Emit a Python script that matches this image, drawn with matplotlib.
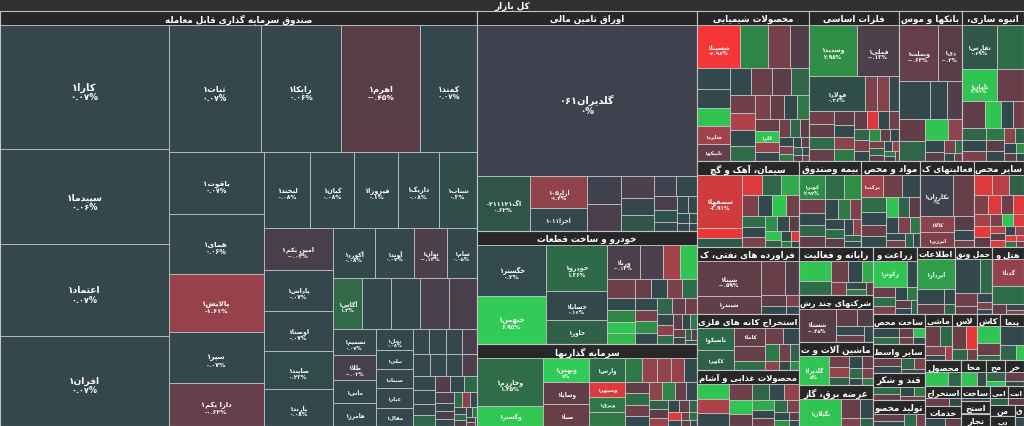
import re
import numpy as np
import matplotlib
matplotlib.use("Agg")
import matplotlib.pyplot as plt
from matplotlib.patches import Rectangle
from matplotlib.colors import to_rgb

# canvas in pixels
W, H = 1024, 427
TITLE_H = 12
HEAD_H = 14
PHI = (1 + 5 ** 0.5) / 2

title = "کل بازار"

# top level sectors (market weight)
sector_names = ["صندوق سرمایه گذاری قابل معامله", "اوراق تامین مالی", "خودرو و ساخت قطعات",
                "سرمایه گذاریها", "محصولات شیمیایی", "فلزات اساسی", "بانکها و موس", "انبوه سازی،",
                "سیمان، آهک و گچ", "فراورده های نفتی، ک", "استخراج کانه های فلزی", "محصولات غذایی و آشام",
                "بیمه وصندوق", "مواد و محص", "فعالیتهای ک", "سایر محص", "رایانه و فعالیت",
                "شرکتهای چند رش", "ماشین آلات و ت", "عرضه برق، گاز", "زراعت و", "اطلاعات",
                "حمل ونق", "هتل و"]
sector_totals = [197955, 48400, 24860, 18040, 16800, 13500, 9450, 9300, 8772, 6834, 5712, 5700,
                 5332, 5074, 4644, 4300, 3552, 3478, 3256, 3010, 3000, 2520, 2500, 2176]

etf_names = ["کارا۱", "سپیدما۱", "اعتماد۱", "افران۱", "ثبات۱", "رایکا۱", "اهرم۱", "کمند۱",
             "یاقوت۱", "همای۱", "پالایش۱", "سپر۱", "دارا یکم۱", "لیخند۱", "کیان۱", "فیروزا۱",
             "داریک۱", "شتاب۱", "امین یکم۱", "پاداش۱", "اوصتا۱", "صایند۱", "پارند۱", "آکورد۱",
             "آوند۱", "توان۱", "سام۱", "آگاس۱", "", "", "", "", "تصمیم۱", "طلا۱", "مانی۱",
             "هامرز۱", "نخل۱", "نیلی۱", "سیناد۱", "عیار۱", "مقال۱"]
etf_values = [20600, 15800, 15100, 15000, 11500, 10050, 9900, 7050, 5770, 5670, 5390, 4840, 4000,
              3430, 3290, 3280, 2990, 2850, 2840, 2770, 2710, 2570, 2510, 2115, 1930, 1600, 1500,
              1490, 1470, 1460, 1440, 1420, 1100, 1080, 1000, 980, 720, 700, 690, 680, 660,
              400, 390, 380, 370, 360, 350, 340, 330, 320, 310, 250, 240, 230, 220, 210, 200,
              150, 140, 130, 120, 110, 100, 90, 80, 70, 60, 50, 40, 30, 20]
etf_change = [0.07, 0.06, 0.07, 0.07, 0.07, 0.06, -0.45, 0.07, 0.07, 0.06, -1.61, 0.07, -0.64,
              0.08, 0.08, 0.1, 0.08, 0.3, -0.04, 0.07, 0.07, 0.23, 0.08, 0.08, 0.07, -0.13, 0.05,
              1.4, 0.07, 0.07, -0.02, -0.05, 0.07, -0.02, 0.05, 0.06, 0.08, 0.07, 0.05, 0.06, 0.07,
              0.07, 0.06, 0.05, -0.06, 0.07, 0.08, 0.07, -0.1, 0.06, 0.07, 0.05, 1.2, -0.3, 0.07,
              1.3, -0.08, 0.06, -0.2, 0.07, 1.5, -1.2, 0.07, 0.05, 1.4, -0.1, 0.06, 2, 0.07, -0.6, 0.05]

bond_names = ["گلدیران۰۶۱", "اگ۰۲۱۱۱۲۱", "اراد۱۰۵", "اخزا۱۰۱۱"]
bond_values = [32700, 2915, 1790, 1290, 950, 920, 730, 560, 530, 440, 420, 300, 280, 200, 180,
               150, 120, 100, 80, 60]
bond_change = [0, 0.62, -1.4, 0.05, 0, -0.1, -0.08, 0.05, 0.6, 0, 0.02, -0.05, 0.5, 0.05, 0.02,
               0.04, 0.03, 0.02, 0.3, 0.05]

auto_names = ["خگستر۱", "خبهمن۱", "خودرو۱", "خساپا۱", "خاور۱", "ورنا۱"]
auto_values = [3500, 3360, 2760, 1740, 1440, 1120, 780, 580, 580, 520, 340, 330, 320, 300, 300,
               290, 280, 280, 270, 260, 260, 250, 240, 220, 200, 180, 160, 140, 130, 120, 100,
               90, 80, 70, 60, 50]
auto_change = [0.2, 6.95, 1.36, 0.16, 1.0, -0.14, -0.1, -2.0, 5.0, -0.8, 0.1, 2.5, 5.0, 4.5, -0.7,
               0.1, -1.0, 1.5, 0.1, -0.9, 3.0, 0.1, 1.2, -0.6, -0.8, 0.1, -1.2, 1.5, -0.5, 0.1,
               2.0, -0.7, 0.1, 1.0, -0.4, 0.2]

inv_names = ["وخارزم۱", "وگستر۱", "وبهمن۱", "وساپا۱", "صبا۱", "وارس۱", "وسپهر۱", "وبرق۱"]
inv_values = [3150, 1340, 1100, 1010, 1000, 840, 530, 525, 490, 420, 345, 340, 300, 300, 280, 280,
              260, 250, 240, 220, 200, 200, 180, 160, 150, 140, 120, 100, 90, 80, 70, 60, 50, 40]
inv_change = [1.45, 5.5, 7.0, -0.6, -0.7, 1.5, -5.0, 2.0, 2.0, 2.0, -1.5, -1.4, -1.6, 0.1, -0.6,
              1.5, -0.8, 0.1, -1.2, 2.5, -0.7, 0.1, 1.0, -0.5, -1.5, 0.1, -0.6, 1.2, -5.0, 0.1,
              -0.8, 1.5, -0.5, 0.1]

chem_names = ["شسپنا۱", "", "", "", "", "", "", "شلرد۱", "تاپیکو۱", "", "", "", "", "", "", "",
              "", "", "", "", "", "", "کلر۱"]
chem_values = [1890, 1230, 970, 840, 700, 650, 620, 600, 570, 560, 550, 520, 480, 450, 420, 400,
               380, 360, 340, 320, 300, 280, 260, 240, 220, 200, 180, 160, 140, 120, 100, 90, 80,
               70, 60, 50, 40]
chem_change = [-6.98, 2.5, -0.9, -0.3, 0.1, 0.1, 5.0, -2.0, -0.6, 0.1, -0.7, -0.5, 1.2, -0.8, -2.5,
               0.1, 1.5, -1.0, -0.6, 0.1, 2.0, -0.7, 5.0, -1.5, 0.1, -0.8, 1.2, -0.5, 0.1, -1.0,
               2.0, 0.1, -0.6, 1.0, -0.4, 0.1, -0.8]

metal_names = ["وسدید۱", "فملی۱", "فولاد۱"]
metal_values = [2500, 2180, 1960, 430, 420, 360, 330, 320, 300, 290, 280, 270, 250, 240, 220, 200,
                190, 180, 170, 160, 150, 140, 130, 120, 110, 100, 90, 80, 70, 60, 50, 40]
metal_change = [2.98, -0.13, 0.36, -1.0, -1.1, 0.1, -0.8, -0.6, 1.5, -0.7, -0.5, 0.1, -1.2, 2.0,
                -0.6, -5.0, 0.1, -0.8, 1.2, -1.0, 0.1, 3.0, -0.6, 0.1, -0.9, 1.0, -0.5, 0.1, -1.5,
                2.0, 0.1, -0.7]

bank_names = ["وبملت۱", "دی۱"]
bank_values = [2220, 1370, 1180, 650, 570, 560, 520, 480, 300, 240, 180, 140, 100, 80, 60]
bank_change = [-0.64, -0.4, 0.1, 0.1, -0.3, -0.6, 1.2, 5.0, -1.2, 0.1, -0.5, -1.0, 1.5, 0.2, -0.8]

build_names = ["ثفارس۱", "", "ثامان۱"]
build_values = [1540, 1190, 1150, 890, 620, 440, 320, 300, 280, 260, 240, 220, 200, 180, 160, 140,
                120, 100, 80, 60]
build_change = [0.69, 1.5, 4.99, -0.7, -0.6, 5.0, 0.1, -0.8, 1.2, 0.1, -1.0, 2.0, -0.5, 0.1, -1.2,
                1.0, 0.1, -0.6, 3.0, 0.1]

cem_names = ["سصفها۱"]
cem_values = [2460, 480, 420, 400, 380, 360, 340, 320, 300, 280, 260, 240, 220, 200, 180, 160,
              140, 120, 100, 80, 60, 50]
cem_change = [-3.91, -6.0, 0.8, -5.0, 1.2, 4.0, -1.0, 0.1, 5.0, -0.8, 1.5, 0.1, -1.0, 3.0, 0.2,
              -0.5, 5.0, 1.0, 0.1, -5.0, 2.0, 0.1]

oil_names = ["شپنا۱", "شبندر۱"]
oil_values = [2275, 1170, 840, 455, 300, 200, 150, 100]
oil_change = [-0.59, -0.6, -0.7, -0.3, -0.5, 0.1, -1.0, 0.1]

mine_names = ["تاصیکو۱", "کگهر۱", "کاما۱"]
mine_values = [840, 760, 560, 480, 300, 280, 260, 240, 200, 160, 120, 100, 80]
mine_change = [1.4, 1.0, -0.6, -0.7, 1.5, -0.8, 0.1, 2.0, -0.8, 1.0, -1.2, 0.1, 3.0]

food_values = [500, 480, 420, 380, 340, 300, 280, 260, 240, 220, 200, 180, 160, 140, 120, 100, 80, 60]
food_change = [5.0, -2.5, 0.1, -0.8, 5.0, -0.6, 1.2, 0.1, -1.5, 4.0, 0.1, -0.7, 1.5, -1.0, 0.2,
               3.0, -0.5, 0.1]

ins_names = ["کوثر۱"]
ins_values = [713, 520, 450, 400, 350, 320, 300, 280, 260, 240, 220, 200, 180, 160, 140, 120, 100]
ins_change = [2.97, 1.5, 3.0, -0.8, 0.1, 1.2, -0.6, 0.1, 2.0, -1.0, 0.1, 1.5, -0.5, 0.1, -1.2, 1.0, 0.1]

drug_names = ["برکت۱"]
drug_values = [610, 550, 500, 450, 400, 360, 320, 300, 280, 260, 240, 220, 200, 180, 160, 140, 120]
drug_change = [-2.0, -0.8, 0.1, 1.5, 0.1, -0.7, 0.2, 5.0, 1.2, -0.5, 0.1, -1.0, 2.0, 0.1, -0.8, 1.0, 0.1]

fin_names = ["نکاردان۱", "", "کالا۱", "انرژی۱"]
fin_values = [1480, 950, 580, 560, 300, 200, 150]
fin_change = [0.0, -0.7, -1.2, -1.0, -0.4, 0.1, -0.8]

nonmet_values = [400, 380, 340, 300, 280, 260, 240, 220, 200, 180, 160, 150, 140, 130, 120, 110,
                 100, 90, 80, 70, 60, 50]
nonmet_change = [-5, -3, 1, -1, -5, -0.8, -5, -2, -6, -0.5, -1, 5, -5, -3, -0.3, -5, 0.1, -1.5,
                 -6, 2, -4, -0.7]

comp_values = [700, 450, 380, 300, 250, 200, 150, 120, 100]
comp_change = [5, 1.5, -0.8, 0.1, 4, -1, 0.2, 2, -0.5]

multi_names = ["شستا۱"]
multi_values = [1290, 400, 300, 250, 200, 150]
multi_change = [-0.45, -0.6, -0.3, 0.1, -0.7, 0.05]

mach_names = ["گلدیرا۱"]
mach_values = [1140, 300, 260, 220, 200, 180, 160, 140, 120, 100]
mach_change = [5, -0.8, -1.5, 1, 0.1, -0.6, 1.5, -1, 0.1, 2]

power_names = ["بگیلان۱"]
power_values = [1120, 350, 250, 150, 100]
power_change = [5, -0.7, 0.1, -1, 1]

agri_names = ["زکوثر۱"]
agri_values = [1010, 300, 260, 220, 200, 180, 160, 140, 120, 100]
agri_change = [5, 0.1, -0.7, 1.5, -1, 0.1, 2, -0.5, 0.1, 1]

info_names = ["اپرداز۱"]
info_values = [1036, 400, 250, 150, 100]
info_change = [3.5, 0.1, -0.5, 0.1, 1]

trans_values = [875, 420, 300, 200, 150, 100, 80]
trans_change = [0.1, 1.3, -0.8, -0.6, 0.1, -1, 0.2]

hotel_names = ["گدنا۱"]
hotel_values = [900, 600, 150, 100, 80]
hotel_change = [-1.5, 1.5, -0.6, 0.1, -1]

# small sectors at the bottom right corner
small_names = ["ساخت محص", "سایر واسط", "قند و شکر", "تولید محصو", "ماشی", "لاس", "کاش", "پیما",
               "محصول", "استخراج", "خدمات", "مخا", "مح", "خر", "ساخت", "استخ", "تجار", "امی",
               "انت", "من", "دب", "ق"]
small_totals = [1508, 1500, 1404, 1352, 1240, 1150, 1100, 1080, 950, 740, 730, 640, 500, 480, 420,
                390, 350, 330, 300, 270, 240, 200]
small_values = [[250, 200, 150, 120, 100, 80], [250, 200, 150, 120, 100], [220, 180, 150, 120, 90],
                [200, 160, 140, 100], [250, 200, 150, 100, 80], [220, 160, 120, 80], [300, 200, 100],
                [380, 200, 100], [200, 120], [120, 60], [100, 80], [100, 60], [80, 40], [80, 40],
                [60], [60], [60], [50], [50], [50], [40], [30]]
small_change = [[0.1, 1.5, -0.6, 5, -0.8, 0.1], [-0.7, 0.1, 1.2, -1, 0.1], [1.4, -0.6, 0.1, 2, -0.8],
                [-0.6, 0.1, 1.3, -0.9], [-0.7, 1.2, -1, 0.1, -2], [-0.7, -6, 1.2, -0.8], [5, -0.7, 1.2],
                [0.1, 1.2, 5], [5, 1.2], [-0.7, 0.1], [0.1, -0.6], [5, 0.1], [1.2, 5], [-0.7, 0.1],
                [0.1], [-0.6], [0.1], [1], [-0.5], [0.1], [-0.8], [0.1]]

# labels drawn without the percent line
plain_labels = {"خاور۱", "شبندر۱", "کالا۱", "انرژی۱", "گدنا۱", "زکوثر۱", "اپرداز۱", "تاپیکو۱",
                "شلرد۱", "کلر۱", "کگهر۱", "تاصیکو۱", "کاما۱", "برکت۱", "بگیلان۱", "مانی۱",
                "هامرز۱", "نیلی۱", "سیناد۱", "عیار۱", "مقال۱", "وگستر۱", "وساپا۱", "صبا۱",
                "وارس۱", "وسپهر۱", "وبرق۱", "اخزا۱۰۱۱"}

sector_children = [
    (etf_names, etf_values, etf_change), (bond_names, bond_values, bond_change),
    (auto_names, auto_values, auto_change), (inv_names, inv_values, inv_change),
    (chem_names, chem_values, chem_change), (metal_names, metal_values, metal_change),
    (bank_names, bank_values, bank_change), (build_names, build_values, build_change),
    (cem_names, cem_values, cem_change), (oil_names, oil_values, oil_change),
    (mine_names, mine_values, mine_change), ([], food_values, food_change),
    (ins_names, ins_values, ins_change), (drug_names, drug_values, drug_change),
    (fin_names, fin_values, fin_change), ([], nonmet_values, nonmet_change),
    ([], comp_values, comp_change), (multi_names, multi_values, multi_change),
    (mach_names, mach_values, mach_change), (power_names, power_values, power_change),
    (agri_names, agri_values, agri_change), (info_names, info_values, info_change),
    ([], trans_values, trans_change), (hotel_names, hotel_values, hotel_change),
]
sector_children += [([], v, c) for v, c in zip(small_values, small_change)]
all_sector_names = sector_names + small_names
all_sector_totals = sector_totals + small_totals

# ---------------------------------------------------------------- persian text
FORMS = {
    'آ': ('\uFE81', '\uFE82', None, None), 'ا': ('\uFE8D', '\uFE8E', None, None),
    'ب': ('\uFE8F', '\uFE90', '\uFE91', '\uFE92'), 'پ': ('\uFB56', '\uFB57', '\uFB58', '\uFB59'),
    'ت': ('\uFE95', '\uFE96', '\uFE97', '\uFE98'), 'ث': ('\uFE99', '\uFE9A', '\uFE9B', '\uFE9C'),
    'ج': ('\uFE9D', '\uFE9E', '\uFE9F', '\uFEA0'), 'چ': ('\uFB7A', '\uFB7B', '\uFB7C', '\uFB7D'),
    'ح': ('\uFEA1', '\uFEA2', '\uFEA3', '\uFEA4'), 'خ': ('\uFEA5', '\uFEA6', '\uFEA7', '\uFEA8'),
    'د': ('\uFEA9', '\uFEAA', None, None), 'ذ': ('\uFEAB', '\uFEAC', None, None),
    'ر': ('\uFEAD', '\uFEAE', None, None), 'ز': ('\uFEAF', '\uFEB0', None, None),
    'ژ': ('\uFB8A', '\uFB8B', None, None),
    'س': ('\uFEB1', '\uFEB2', '\uFEB3', '\uFEB4'), 'ش': ('\uFEB5', '\uFEB6', '\uFEB7', '\uFEB8'),
    'ص': ('\uFEB9', '\uFEBA', '\uFEBB', '\uFEBC'), 'ض': ('\uFEBD', '\uFEBE', '\uFEBF', '\uFEC0'),
    'ط': ('\uFEC1', '\uFEC2', '\uFEC3', '\uFEC4'), 'ظ': ('\uFEC5', '\uFEC6', '\uFEC7', '\uFEC8'),
    'ع': ('\uFEC9', '\uFECA', '\uFECB', '\uFECC'), 'غ': ('\uFECD', '\uFECE', '\uFECF', '\uFED0'),
    'ف': ('\uFED1', '\uFED2', '\uFED3', '\uFED4'), 'ق': ('\uFED5', '\uFED6', '\uFED7', '\uFED8'),
    'ک': ('\uFB8E', '\uFB8F', '\uFB90', '\uFB91'), 'گ': ('\uFB92', '\uFB93', '\uFB94', '\uFB95'),
    'ل': ('\uFEDD', '\uFEDE', '\uFEDF', '\uFEE0'), 'م': ('\uFEE1', '\uFEE2', '\uFEE3', '\uFEE4'),
    'ن': ('\uFEE5', '\uFEE6', '\uFEE7', '\uFEE8'), 'و': ('\uFEED', '\uFEEE', None, None),
    'ه': ('\uFEE9', '\uFEEA', '\uFEEB', '\uFEEC'), 'ی': ('\uFEEF', '\uFEF0', '\uFEF3', '\uFEF4'),
}
LAM_ALEF = {'ا': ('\uFEFB', '\uFEFC'), 'آ': ('\uFEF5', '\uFEF6')}
FA_DIGITS = str.maketrans("0123456789", "۰۱۲۳۴۵۶۷۸۹")


def shape(word):
    out = []
    i, n = 0, len(word)
    while i < n:
        c = word[i]
        if c not in FORMS:
            out.append(c)
            i += 1
            continue
        prev = word[i - 1] if i > 0 else ''
        nxt = word[i + 1] if i + 1 < n else ''
        joins_prev = prev in FORMS and FORMS[prev][2] is not None
        if c == 'ل' and nxt in LAM_ALEF:
            out.append(LAM_ALEF[nxt][1] if joins_prev else LAM_ALEF[nxt][0])
            i += 2
            continue
        iso, fin, ini, med = FORMS[c]
        joins_next = ini is not None and nxt in FORMS
        if joins_prev and joins_next:
            out.append(med)
        elif joins_prev:
            out.append(fin)
        elif joins_next:
            out.append(ini)
        else:
            out.append(iso)
        i += 1
    return ''.join(out)


def visual(s):
    # right-to-left paragraph: digit runs keep their order
    runs = re.findall(r'[0-9۰-۹]+|[^0-9۰-۹]+', s)
    parts = [r if r[0] in "0123456789۰۱۲۳۴۵۶۷۸۹" else shape(r)[::-1] for r in runs]
    return ''.join(reversed(parts))


def pct_text(v):
    s = ('%.2f' % v).rstrip('0').rstrip('.')
    if s in ('-0', ''):
        s = '0'
    return s.translate(FA_DIGITS) + '%'


# ---------------------------------------------------------------- colours
stop_v = [-7, -4, -2.5, -1.2, -0.5, -0.01, 0, 0.01, 0.4, 1.4, 3, 5, 7]
stop_c = np.array([to_rgb(c) for c in ['#f63538', '#d23b3d', '#b0414a', '#8b434c', '#5a3d47',
                                       '#473f4b', '#40414f', '#34464d', '#2f4f49', '#2f6b48',
                                       '#2f8f46', '#30c552', '#31cc57']])


def tone(v):
    return tuple(float(np.interp(v, stop_v, stop_c[:, k])) for k in range(3))


# ---------------------------------------------------------------- layout
def squarify(values, x0, y0, x1, y1, ratio=PHI):
    # d3 style squarified tiling, values laid out largest first
    order = sorted(range(len(values)), key=lambda k: -values[k])
    nodes = [values[k] for k in order]
    rects = [None] * len(values)
    value = float(sum(nodes))
    i0 = i1 = 0
    n = len(nodes)
    while i0 < n:
        dx, dy = x1 - x0, y1 - y0
        sum_v = nodes[i1]
        i1 += 1
        min_v = max_v = sum_v
        alpha = max(dy / dx, dx / dy) / (value * ratio)
        beta = sum_v * sum_v * alpha
        min_ratio = max(max_v / beta, beta / min_v)
        while i1 < n:
            nv = nodes[i1]
            sum_v += nv
            min_v, max_v = min(min_v, nv), max(max_v, nv)
            beta = sum_v * sum_v * alpha
            new_ratio = max(max_v / beta, beta / min_v)
            if new_ratio > min_ratio:
                sum_v -= nv
                break
            min_ratio = new_ratio
            i1 += 1
        row = order[i0:i1]
        last = i1 >= n
        if dx < dy:
            h = dy if last else dy * sum_v / value
            xx = x0
            for k in row:
                w = dx * values[k] / sum_v
                rects[k] = (xx, y0, w, h)
                xx += w
            y0 += h
        else:
            w = dx if last else dx * sum_v / value
            yy = y0
            for k in row:
                hh = dy * values[k] / sum_v
                rects[k] = (x0, yy, w, hh)
                yy += hh
            x0 += w
        value -= sum_v
        i0 = i1
    return rects


def squeeze(rects, top, y1, new_top):
    # tiles are computed on the full box and pushed below the header
    f = (y1 - new_top) / (y1 - top)
    return [(x, new_top + (y - top) * f, w, h * f) for x, y, w, h in rects]


fig = plt.figure(figsize=(W / 100, H / 100), dpi=100)
fig.patch.set_facecolor('#2b2b2b')
ax = fig.add_axes([0, 0, 1, 1])
ax.set_xlim(0, W)
ax.set_ylim(H, 0)
ax.axis('off')
renderer = fig.canvas.get_renderer()

EDGE = '#c2c2c2'
FONT = dict(family='DejaVu Sans', fontweight='bold', color='white', ha='center', va='center')


def fit_text(x, y, s, fs, max_w):
    # shrink a label until it fits the box width
    t = ax.text(x, y, s, fontsize=fs, **FONT)
    w = t.get_window_extent(renderer).width
    if w > max_w > 0:
        t.set_fontsize(fs * max_w / w)
    return t


ax.add_patch(Rectangle((0, 0), W, TITLE_H, facecolor='#303030', edgecolor='none'))
ax.text(W / 2, TITLE_H / 2 + 0.5, visual(title), fontsize=6.3, **FONT)

sec_rects = squeeze(squarify(all_sector_totals, 0, 0, W, H), 0, H, TITLE_H)

for (sx, sy, sw, sh), sname, (names, vals, chg) in zip(sec_rects, all_sector_names, sector_children):
    hh = min(HEAD_H if sw > 40 else 12, sh)
    inner_top = sy + hh
    if sh > hh + 1:
        cells = squeeze(squarify(vals, sx, sy, sx + sw, sy + sh), sy, sy + sh, inner_top)
        for k, (cx, cy, cw, ch) in enumerate(cells):
            ax.add_patch(Rectangle((cx, cy), cw, ch, facecolor=tone(chg[k]),
                                   edgecolor=EDGE, linewidth=0.6))
            name = names[k] if k < len(names) else ''
            if not name or cw < 12 or ch < 7:
                continue
            fs = min(7.0, 3.2 + 0.027 * np.sqrt(cw * ch), ch / 1.6)
            fs_px = fs * 1.389
            mx, my = cx + cw / 2, cy + ch / 2
            if name not in plain_labels and ch > 2.3 * fs_px:
                fit_text(mx, my - 0.05 * fs_px, visual(name), fs, cw - 4)
                fit_text(mx, my + 1.0 * fs_px, pct_text(chg[k]), fs * 0.9, cw - 4)
            else:
                fit_text(mx, my, visual(name), fs, cw - 4)
    ax.add_patch(Rectangle((sx, sy), sw, hh, facecolor='#272727', edgecolor=EDGE, linewidth=0.6))
    fit_text(sx + sw / 2, sy + hh / 2 + 0.5, visual(sname), min(6.3, hh * 0.5), sw - 3)
    ax.add_patch(Rectangle((sx, sy), sw, sh, facecolor='none', edgecolor=EDGE, linewidth=0.8))

fig.savefig('out.png', dpi=100, facecolor=fig.get_facecolor())
